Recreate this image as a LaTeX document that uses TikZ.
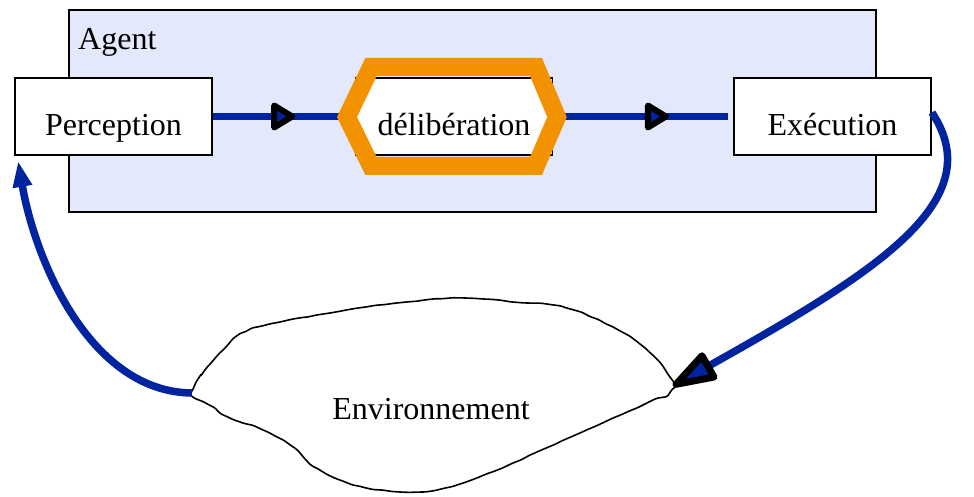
\documentclass[tikz,border=0pt]{standalone}
\usepackage{fontspec}
\setmainfont{Liberation Serif}
\usetikzlibrary{arrows.meta,decorations.markings,decorations.pathmorphing,shapes.geometric}
\definecolor{agblue}{RGB}{0,35,160}
\definecolor{agfill}{RGB}{227,233,251}
\definecolor{hexorange}{RGB}{243,146,0}
\tikzset{
  module/.style={draw, line width=1.8pt, fill=white, minimum width=197pt,
    minimum height=77pt, inner sep=0pt, text height=39pt, text depth=0pt},
  flow/.style={agblue, line width=7.5pt},
  midtip/.style={isosceles triangle, isosceles triangle stretches, draw=black, fill=agblue,
    line width=6pt, line join=round, minimum height=18pt, minimum width=22pt, inner sep=0pt, anchor=apex},
  midarrow/.style={postaction={decorate}, decoration={markings,
    mark=at position #1 with {\node[midtip] {};}}},
}
\begin{document}
\begin{tikzpicture}[x=1pt,y=-1pt,font=\fontsize{32}{38}\selectfont]
    \useasboundingbox (0,0) rectangle (974,497);
    \pgfmathsetseed{7}
    \node[draw, line width=1.8pt, fill=agfill, minimum width=807pt, minimum height=202pt] (agentbox) at (472.5,111) {};
    \node[anchor=base west, inner sep=0pt] (agent) at (78,50) {Agent};
    \node[module] (percep) at (113.5,116.5) {Perception};
    \node[module] (delib) at (454,116.5) {délibération};
    \node[module] (exec) at (832.5,116.5) {Exécution};
    \draw[flow, midarrow=0.615] (percep.east) -- (delib.west);
    \draw[flow, midarrow=0.67, shorten >=5pt] (delib.east) -- (exec.west);
    % hexagone
    \draw[hexorange, line width=18pt, line join=miter]
        (347,117) -- (371,67) -- (536,67) -- (557,117) -- (536,166) -- (371,166) -- cycle;
    % environnement
    \draw[line width=1.6pt, decorate, decoration={random steps, segment length=9pt, amplitude=0.5pt}, rounded corners=1.5pt]
        plot[smooth cycle, tension=0.6] coordinates {
        (192,392) (200,377) (220,353) (243,333) (280,322) (330,313) (397,303)
        (463,298) (513,302) (563,307) (613,327) (647,350) (667,373) (673,388)
        (647,403) (580,433) (513,463) (463,483) (420,492) (363,487) (320,470)
        (293,447) (263,430) (230,418) (213,407) (193,397)};
    \node[anchor=base] (env) at (431,419) {Environnement};
    \coordinate (envL) at (192,393);
    \coordinate (envR) at (673,386);
    \draw[flow, -{Triangle[length=26pt,width=18pt]}]
        (envL) .. controls (90,392) and (35,260) .. ([xshift=4pt,yshift=-5pt]percep.south west);
    \draw[flow, -{Triangle[length=52pt,width=32pt,fill=agblue,line width=7pt,round,color=black]}]
        ([yshift=4pt]exec.east) .. controls (990,200) and (880,270) .. (envR);
\end{tikzpicture}
\end{document}
